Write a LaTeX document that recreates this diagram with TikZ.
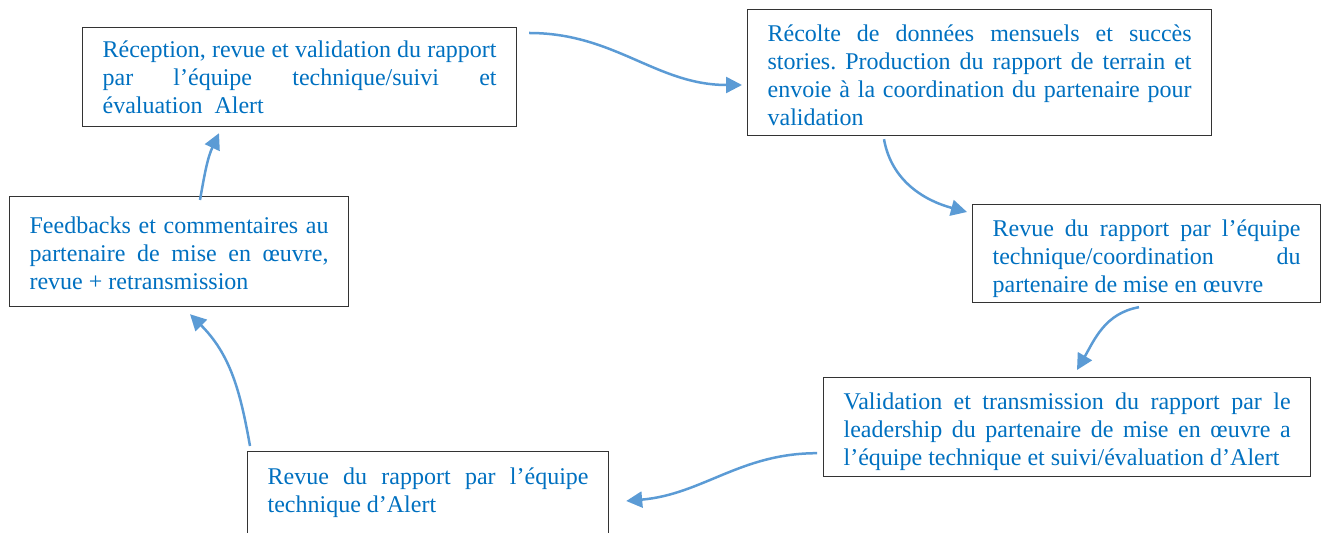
\documentclass[tikz,border=0pt]{standalone}
\usepackage{fontspec}
\setmainfont{Liberation Serif}
\usepackage{tikz}
\usetikzlibrary{positioning,arrows.meta}
\definecolor{texteBleu}{HTML}{0070C0}
\definecolor{flecheBleu}{HTML}{5B9BD5}
\frenchspacing

\begin{document}
\begin{tikzpicture}
        [x=0.5pt, y=0.5pt,
        font=\fontsize{12}{14}\selectfont,
        etape/.style={rectangle, draw=black!80, line width=0.6pt,
        text=texteBleu, align=justify, anchor=north west,
        inner xsep=10pt, inner ysep=0pt, text height=15.75pt},
        fleche/.style={draw=flecheBleu, line width=1.25pt,
        -{Triangle[length=8pt,width=8pt]}}]
        \useasboundingbox (0,0) rectangle (1326,-533);
        \clip (0,0) rectangle (1326,-533);
        \node[etape, text width=197pt, text height=14.75pt, text depth=34.75pt] (recep) at (82,-27)
            {Réception, revue et validation du rapport\linebreak
             par l’équipe technique/suivi et\linebreak
             évaluation~~Alert};
        \node[etape, text width=212pt, text depth=47.25pt] (recolte) at (747,-9)
            {Récolte de données mensuels et succès\linebreak
             stories. Production du rapport de terrain et\linebreak
             envoie à la coordination du partenaire pour\linebreak
             validation};
        \node[etape, text width=154pt, text depth=33.25pt] (revuecoord) at (972,-204)
            {Revue du rapport par l’équipe\linebreak
             technique/coordination du\linebreak
             partenaire de mise en œuvre};
        \node[etape, text width=223.5pt, text depth=33.75pt] (valid) at (823,-377)
            {Validation et transmission du rapport par le\linebreak
             leadership du partenaire de mise en œuvre a\linebreak
             l’équipe technique et suivi/évaluation d’Alert};
        \node[etape, text width=160.5pt, text height=16.25pt, text depth=50pt] (revuealert) at (247,-451)
            {Revue du rapport par l’équipe\linebreak
             technique d’Alert};
        \node[etape, text width=149.5pt, text height=18.25pt, text depth=36.75pt] (feedback) at (9,-196)
            {Feedbacks et commentaires au\linebreak
             partenaire de mise en œuvre,\linebreak
             revue + retransmission};

        \draw[fleche] ([shift={(12,-6)}]recep.north east) to[out=0,in=180]
            ([shift={(-5,-76)}]recolte.north west);
        \draw[fleche] ([shift={(137,-3)}]recolte.south west) to[out=-80,in=165]
            ([shift={(-5,-8)}]revuecoord.north west);
        \draw[fleche] ([shift={(167,-4)}]revuecoord.south west) to[out=190,in=60]
            ([shift={(254,7)}]valid.north west);
        \draw[fleche] ([shift={(-6,24)}]valid.south west) to[out=180,in=5]
            ([shift={(17,-50)}]revuealert.north east);
        \draw[fleche] ([shift={(3,5)}]revuealert.north west) to[out=100,in=-45]
            ([shift={(181,-7)}]feedback.south west);
        \draw[fleche] ([shift={(191,-4)}]feedback.north west) to[out=80,in=-115]
            ([shift={(137,-6)}]recep.south west);
\end{tikzpicture}
\end{document}
